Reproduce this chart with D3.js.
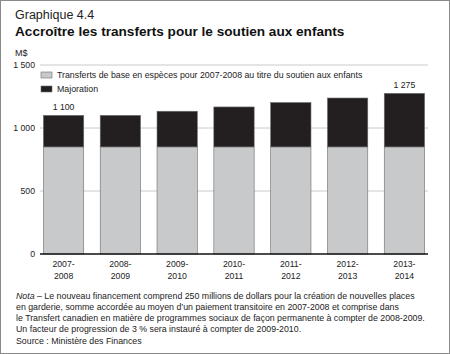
<!DOCTYPE html>
<html>
<head>
<meta charset="utf-8">
<script src="https://cdn.jsdelivr.net/npm/d3@7"></script>
<style>
  body { margin: 0; background: #fff; }
  svg { display: block; font-family: "Liberation Sans", Arial, sans-serif; }
</style>
</head>
<body>
<div id="chart"></div>
<script>
const years = ["2007-2008", "2008-2009", "2009-2010", "2010-2011", "2011-2012", "2012-2013", "2013-2014"];
const baseValues = [850, 850, 850, 850, 850, 850, 850];
const majorationValues = [250, 250, 283, 317, 352, 388, 425];
const yTicks = [0, 500, 1000, 1500];
const seriesNames = ["Transferts de base en espèces pour 2007-2008 au titre du soutien aux enfants", "Majoration"];
const labelledYears = ["2007-2008", "2013-2014"];
const noteLines = [
    "– Le nouveau financement comprend 250 millions de dollars pour la création de nouvelles places",
    "en garderie, somme accordée au moyen d’un paiement transitoire en 2007-2008 et comprise dans",
    "le Transfert canadien en matière de programmes sociaux de façon permanente à compter de 2008-2009.",
    "Un facteur de progression de 3 % sera instauré à compter de 2009-2010."
];

const grey = "#c8c9cb";
const dark = "#231f20";

const W = 450, H = 354;
const svg = d3.select("#chart").append("svg")
    .attr("width", W)
    .attr("height", H);

svg.append("rect")
    .attr("x", 0.5).attr("y", 0.5)
    .attr("width", W - 1).attr("height", H - 1)
    .attr("fill", "#fff")
    .attr("stroke", "#8a8a8a");

svg.append("text").attr("x", 15).attr("y", 19)
    .style("font-size", "12.5px").attr("fill", "#222")
    .text("Graphique 4.4");
svg.append("text").attr("x", 15).attr("y", 36)
    .style("font-size", "13.6px").style("font-weight", "bold").attr("fill", "#111")
    .text("Accroître les transferts pour le soutien aux enfants");
svg.append("text").attr("x", 15).attr("y", 56)
    .style("font-size", "9px").attr("fill", "#222")
    .text("M$");

const left = 40, right = 428;
const y = d3.scaleLinear().domain([0, 1500]).range([254, 65]);
const x = d3.scaleBand().domain(years).range([left, right]).paddingInner(0.29).paddingOuter(0.06);

// grid
svg.append("g").selectAll("line")
    .data(yTicks.filter(d => d > 0))
    .enter().append("line")
    .attr("x1", left).attr("x2", right)
    .attr("y1", d => y(d)).attr("y2", d => y(d))
    .attr("stroke", "#bdbdbd").attr("stroke-width", 0.8);

svg.append("g").selectAll("text")
    .data(yTicks)
    .enter().append("text")
    .attr("x", 35).attr("y", d => y(d) + 3)
    .attr("text-anchor", "end")
    .style("font-size", "8.7px").attr("fill", "#222")
    .text(d => d3.format(",")(d).replace(/,/g, " "));

const rows = years.map((yr, i) => ({ yr, base: baseValues[i], maj: majorationValues[i] }));

svg.append("g").selectAll("rect")
    .data(rows)
    .enter().append("rect")
    .attr("x", d => x(d.yr)).attr("width", x.bandwidth())
    .attr("y", d => y(d.base)).attr("height", d => y(0) - y(d.base))
    .attr("fill", grey).attr("stroke", "#6d6d6d").attr("stroke-width", 0.6);

svg.append("g").selectAll("rect")
    .data(rows)
    .enter().append("rect")
    .attr("x", d => x(d.yr)).attr("width", x.bandwidth())
    .attr("y", d => y(d.base + d.maj)).attr("height", d => y(d.base) - y(d.base + d.maj))
    .attr("fill", dark).attr("stroke", "#6d6d6d").attr("stroke-width", 0.6);

svg.append("g").selectAll("text")
    .data(rows.filter(d => labelledYears.includes(d.yr)))
    .enter().append("text")
    .attr("x", d => x(d.yr) + x.bandwidth() / 2)
    .attr("y", d => y(d.base + d.maj) - 5)
    .attr("text-anchor", "middle")
    .style("font-size", "8.7px").attr("fill", "#222")
    .text(d => d3.format(",")(d.base + d.maj).replace(/,/g, " "));

// baseline
svg.append("line")
    .attr("x1", left).attr("x2", right)
    .attr("y1", y(0)).attr("y2", y(0))
    .attr("stroke", "#111").attr("stroke-width", 1.5);

svg.append("g").selectAll("text")
    .data(years)
    .enter().append("text")
    .attr("text-anchor", "middle")
    .style("font-size", "8.7px").attr("fill", "#222")
    .each(function (d) {
        const t = d3.select(this);
        const parts = d.split("-");
        t.append("tspan").attr("x", x(d) + x.bandwidth() / 2).attr("y", 267).text(parts[0] + "-");
        t.append("tspan").attr("x", x(d) + x.bandwidth() / 2).attr("y", 279).text(parts[1]);
    });

// legend
const legend = svg.append("g");
seriesNames.forEach((name, i) => {
    legend.append("rect")
        .attr("x", 41).attr("y", 72 + i * 14)
        .attr("width", 11).attr("height", 6)
        .attr("fill", i === 0 ? grey : dark)
        .attr("stroke", "#6d6d6d").attr("stroke-width", 0.6);
    legend.append("text")
        .attr("x", 57).attr("y", 78 + i * 14)
        .style("font-size", "8.8px").attr("fill", "#222")
        .text(name);
});

// note
const note = svg.append("g").style("font-size", "8.8px").attr("fill", "#222");
noteLines.forEach((line, i) => {
    const t = note.append("text").attr("x", 16).attr("y", 299 + i * 11);
    if (i === 0) {
        t.append("tspan").style("font-style", "italic").text("Nota");
        t.append("tspan").text(" " + line);
    } else {
        t.text(line);
    }
});
note.append("text").attr("x", 16).attr("y", 344).text("Source : Ministère des Finances");
</script>
</body>
</html>
